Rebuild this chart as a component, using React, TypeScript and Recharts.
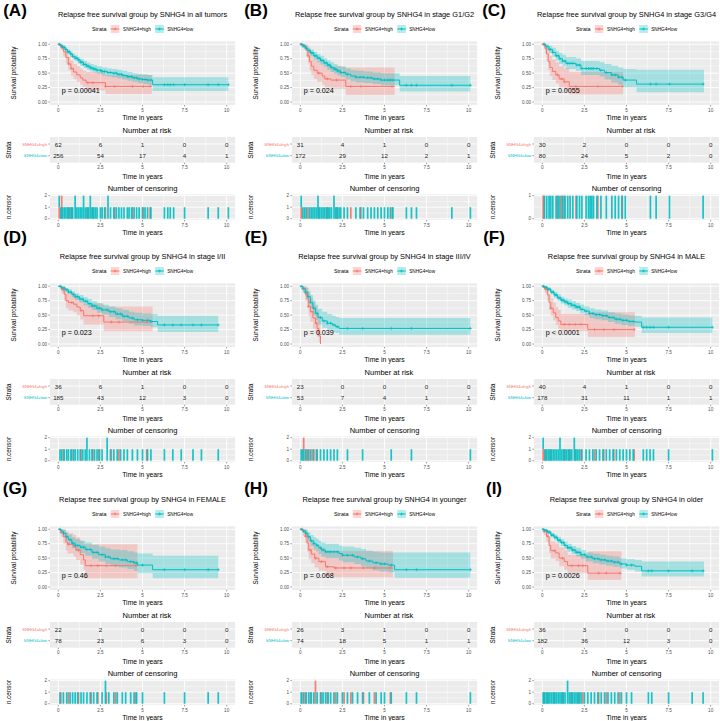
import React from "react";
import { ComposedChart, Line, Area, Scatter, Bar, XAxis, YAxis, CartesianGrid } from "recharts";

type Step = [number, number, number, number]; // time, survival, lower CI, upper CI
type Cens = [number, number]; // time, number censored

const RED = "#F8766D";
const TEAL = "#00BFC4";
const FONT = "'Liberation Sans', Arial, Helvetica, sans-serif";

const TIME_TICKS = [0, 2.5, 5, 7.5, 10];
const TIME_MINOR = [1.25, 3.75, 6.25, 8.75];
const SURV_TICKS = [0, 0.25, 0.5, 0.75, 1];
const SURV_MINOR = [0.125, 0.375, 0.625, 0.875];
const STRATA = ["SNHG4=high", "SNHG4=low"];

// ---------- Panel A: all tumors ----------
const A_HIGH: Step[] = [[0,1,1,1],[0.15,0.95,0.9,1],[0.3,0.87,0.79,0.96],[0.45,0.77,0.67,0.88],[0.6,0.66,0.55,0.79],[0.75,0.58,0.46,0.72],[0.9,0.52,0.4,0.66],[1.1,0.47,0.35,0.62],[1.3,0.42,0.3,0.58],[1.45,0.38,0.26,0.54],[1.65,0.335,0.2,0.52],[2.8,0.27,0.14,0.47],[5.55,0.27,0.14,0.47]];
const A_LOW: Step[] = [[0,1,1,1],[0.1,0.98,0.96,1],[0.25,0.95,0.92,0.98],[0.4,0.91,0.88,0.95],[0.55,0.87,0.83,0.91],[0.7,0.83,0.79,0.88],[0.85,0.79,0.74,0.84],[1.0,0.76,0.71,0.81],[1.15,0.73,0.67,0.78],[1.3,0.69,0.63,0.75],[1.5,0.65,0.59,0.71],[1.7,0.62,0.56,0.68],[1.9,0.59,0.53,0.66],[2.1,0.57,0.51,0.64],[2.3,0.55,0.49,0.62],[2.6,0.53,0.46,0.6],[2.9,0.51,0.44,0.58],[3.2,0.5,0.43,0.57],[3.5,0.48,0.41,0.56],[3.8,0.46,0.39,0.54],[4.1,0.44,0.37,0.52],[4.4,0.42,0.35,0.5],[4.7,0.4,0.33,0.49],[5.0,0.39,0.31,0.48],[5.3,0.38,0.3,0.47],[5.6,0.3,0.19,0.43],[10.1,0.3,0.19,0.43]];
const A_CENS_HIGH: Cens[] = [[0.05,1],[0.2,2],[0.6,1],[0.8,1],[1.75,1],[2.05,1],[2.8,1],[3.35,1],[4.4,1],[5.05,1],[5.45,1]];
const A_CENS_LOW: Cens[] = [[0.05,1],[0.15,1],[0.25,1],[0.35,1],[0.45,1],[0.55,1],[0.65,1],[0.75,1],[0.85,1],[1.0,2],[1.1,1],[1.2,1],[1.3,1],[1.4,1],[1.5,2],[1.6,1],[1.7,1],[1.8,1],[1.9,2],[2.0,1],[2.1,1],[2.2,1],[2.3,1],[2.5,1],[2.6,1],[2.75,1],[2.95,2],[3.1,1],[3.3,1],[3.45,1],[3.6,1],[3.75,1],[3.9,1],[4.1,1],[4.2,1],[4.35,1],[4.5,1],[4.65,1],[4.8,1],[5.0,1],[5.15,1],[5.3,1],[5.5,1],[6.3,1],[6.5,1],[6.65,1],[6.85,1],[7.5,1],[8.9,1],[9.5,1],[10.1,1]];
const A_RISK_HIGH = [62, 6, 1, 0, 0];
const A_RISK_LOW = [256, 54, 17, 4, 1];

// ---------- Panel B: stage G1/G2 ----------
const B_HIGH: Step[] = [[0,1,1,1],[0.2,0.97,0.91,1],[0.35,0.9,0.8,1],[0.45,0.8,0.67,0.96],[0.55,0.7,0.55,0.88],[0.65,0.62,0.47,0.82],[0.8,0.55,0.4,0.76],[1.0,0.5,0.35,0.72],[1.3,0.45,0.3,0.68],[1.45,0.4,0.25,0.64],[1.8,0.38,0.23,0.62],[2.7,0.27,0.12,0.6],[5.6,0.27,0.12,0.6]];
const B_LOW: Step[] = [[0,1,1,1],[0.15,0.97,0.94,1],[0.3,0.93,0.89,0.97],[0.45,0.89,0.84,0.94],[0.6,0.85,0.8,0.91],[0.8,0.8,0.74,0.87],[1.0,0.76,0.69,0.83],[1.2,0.72,0.65,0.8],[1.4,0.68,0.61,0.76],[1.6,0.64,0.56,0.72],[1.8,0.6,0.52,0.69],[2.0,0.57,0.49,0.66],[2.2,0.54,0.46,0.63],[2.4,0.51,0.43,0.61],[2.7,0.48,0.39,0.58],[3.0,0.45,0.36,0.55],[3.3,0.43,0.34,0.54],[3.8,0.42,0.33,0.53],[4.3,0.4,0.31,0.51],[4.8,0.38,0.29,0.5],[5.9,0.29,0.18,0.45],[10.1,0.29,0.18,0.45]];
const B_CENS_HIGH: Cens[] = [[0.05,1],[0.45,1],[1.1,1],[1.6,1],[2.15,1],[3.0,1],[3.6,1],[5.45,1]];
const B_CENS_LOW: Cens[] = [[0.05,1],[0.15,1],[0.25,1],[0.35,1],[0.55,1],[0.65,1],[0.75,1],[0.85,1],[0.95,1],[1.05,2],[1.15,1],[1.25,1],[1.35,1],[1.45,1],[1.55,1],[1.65,1],[1.75,1],[1.85,1],[2.0,2],[2.1,1],[2.2,1],[2.3,1],[2.4,1],[2.6,1],[2.8,1],[3.3,1],[3.55,1],[3.75,1],[4.0,1],[4.2,1],[4.4,1],[4.6,1],[4.8,1],[5.0,1],[5.2,1],[5.35,1],[5.5,1],[6.3,1],[6.6,1],[6.9,1],[9.0,1],[10.1,1]];
const B_RISK_HIGH = [31, 4, 1, 0, 0];
const B_RISK_LOW = [172, 29, 12, 2, 1];

// ---------- Panel C: stage G3/G4 ----------
const C_HIGH: Step[] = [[0,1,1,1],[0.15,0.93,0.85,1],[0.25,0.83,0.71,0.98],[0.35,0.7,0.55,0.88],[0.45,0.6,0.45,0.8],[0.6,0.53,0.38,0.74],[0.8,0.47,0.32,0.69],[1.0,0.4,0.25,0.62],[1.3,0.35,0.2,0.58],[1.6,0.27,0.13,0.52],[4.8,0.27,0.13,0.52]];
const C_LOW: Step[] = [[0,1,1,1],[0.2,0.96,0.92,1],[0.4,0.91,0.85,0.98],[0.6,0.86,0.79,0.94],[0.8,0.8,0.72,0.89],[1.0,0.75,0.66,0.85],[1.2,0.71,0.62,0.82],[1.4,0.67,0.57,0.78],[2.0,0.64,0.54,0.76],[2.3,0.58,0.47,0.71],[3.4,0.55,0.44,0.69],[3.7,0.51,0.39,0.66],[4.1,0.47,0.34,0.63],[4.5,0.43,0.3,0.6],[4.8,0.38,0.25,0.57],[5.6,0.31,0.17,0.56],[9.6,0.31,0.17,0.56]];
const C_CENS_HIGH: Cens[] = [[0.05,1],[0.1,1],[0.9,1],[1.15,1],[1.3,1],[2.0,1],[3.3,1],[4.75,1]];
const C_CENS_LOW: Cens[] = [[0.12,1],[0.26,1],[0.4,1],[0.5,1],[0.62,1],[0.82,1],[0.95,1],[1.05,1],[1.21,1],[1.35,1],[1.51,1],[1.65,1],[1.81,1],[2.05,1],[2.21,1],[2.35,1],[2.6,1],[2.74,1],[2.84,1],[2.94,1],[3.04,1],[3.24,1],[3.48,1],[3.8,1],[4.13,1],[4.33,1],[4.53,1],[4.73,1],[4.93,1],[6.42,1],[6.76,1],[7.55,1],[9.55,1]];
const C_RISK_HIGH = [30, 2, 0, 0, 0];
const C_RISK_LOW = [80, 24, 5, 2, 0];

// ---------- Panel D: stage I/II ----------
const D_HIGH: Step[] = [[0,1,1,1],[0.2,0.94,0.87,1],[0.35,0.86,0.75,0.98],[0.45,0.75,0.62,0.9],[0.6,0.72,0.58,0.88],[0.9,0.69,0.55,0.86],[1.1,0.64,0.5,0.82],[1.3,0.58,0.43,0.77],[1.5,0.49,0.34,0.7],[2.7,0.38,0.22,0.65],[5.6,0.38,0.22,0.65]];
const D_LOW: Step[] = [[0,1,1,1],[0.2,0.97,0.95,1],[0.4,0.94,0.9,0.97],[0.6,0.9,0.86,0.95],[0.8,0.86,0.81,0.91],[1.0,0.82,0.76,0.88],[1.25,0.78,0.72,0.85],[1.5,0.74,0.67,0.81],[1.75,0.7,0.63,0.78],[2.0,0.66,0.59,0.74],[2.3,0.62,0.54,0.71],[2.6,0.59,0.51,0.68],[3.0,0.56,0.47,0.65],[3.4,0.52,0.43,0.62],[3.8,0.48,0.39,0.59],[4.2,0.45,0.35,0.56],[4.5,0.42,0.32,0.54],[5.0,0.41,0.31,0.53],[5.5,0.39,0.29,0.52],[5.9,0.33,0.21,0.49],[9.5,0.33,0.21,0.49]];
const D_CENS_HIGH: Cens[] = [[0.3,1],[0.8,1],[1.35,1],[2.05,1],[2.4,1],[3.15,1],[3.6,1],[5.25,1]];
const D_CENS_LOW: Cens[] = [[0.1,1],[0.2,1],[0.35,1],[0.5,1],[0.6,1],[0.75,1],[0.9,1],[1.0,1],[1.15,1],[1.3,1],[1.45,1],[1.6,1],[1.7,2],[1.85,1],[2.0,1],[2.15,1],[2.3,1],[2.45,1],[2.6,1],[2.9,2],[3.1,1],[3.3,1],[3.5,1],[3.7,1],[3.9,1],[4.1,1],[4.4,1],[4.7,1],[5.0,1],[5.3,1],[5.5,1],[6.3,1],[6.8,1],[7.3,1],[8.0,1],[8.5,1],[9.5,1]];
const D_RISK_HIGH = [36, 6, 1, 0, 0];
const D_RISK_LOW = [185, 43, 12, 3, 0];

// ---------- Panel E: stage III/IV ----------
const E_HIGH: Step[] = [[0,1,1,1],[0.15,0.96,0.88,1],[0.3,0.87,0.74,1],[0.4,0.78,0.62,0.97],[0.5,0.65,0.48,0.88],[0.6,0.56,0.38,0.8],[0.75,0.45,0.27,0.72],[0.9,0.36,0.19,0.65],[1.0,0.27,0.12,0.58],[1.1,0.14,0.03,0.5],[1.2,0,0,0]];
const E_LOW: Step[] = [[0,1,1,1],[0.15,0.96,0.91,1],[0.3,0.9,0.83,0.98],[0.45,0.82,0.72,0.92],[0.6,0.72,0.61,0.85],[0.75,0.62,0.5,0.76],[0.9,0.53,0.41,0.68],[1.05,0.46,0.34,0.61],[1.3,0.4,0.28,0.56],[1.6,0.36,0.24,0.52],[1.9,0.33,0.21,0.49],[2.1,0.3,0.19,0.47],[2.3,0.27,0.16,0.45],[10.1,0.27,0.16,0.45]];
const E_CENS_HIGH: Cens[] = [[0.2,2],[0.35,1],[0.5,1],[0.7,1],[0.95,1]];
const E_CENS_LOW: Cens[] = [[0.05,1],[0.15,1],[0.3,1],[0.45,1],[0.6,1],[0.8,1],[1.0,1],[1.2,1],[1.4,1],[1.6,1],[1.8,1],[2.0,1],[2.2,1],[2.8,1],[3.7,1],[5.4,1],[6.6,1],[10.1,1]];
const E_RISK_HIGH = [23, 0, 0, 0, 0];
const E_RISK_LOW = [53, 7, 4, 1, 1];

// ---------- Panel F: MALE ----------
const F_HIGH: Step[] = [[0,1,1,1],[0.15,0.95,0.88,1],[0.3,0.85,0.75,0.97],[0.4,0.72,0.6,0.87],[0.5,0.62,0.49,0.79],[0.65,0.54,0.41,0.72],[0.8,0.46,0.33,0.64],[0.95,0.4,0.27,0.59],[1.1,0.34,0.22,0.52],[2.7,0.25,0.12,0.55],[5.5,0.25,0.12,0.55]];
const F_LOW: Step[] = [[0,1,1,1],[0.15,0.98,0.96,1],[0.3,0.95,0.92,0.98],[0.5,0.9,0.86,0.94],[0.7,0.85,0.8,0.9],[0.9,0.8,0.75,0.86],[1.1,0.76,0.7,0.82],[1.3,0.73,0.67,0.79],[1.5,0.7,0.63,0.77],[1.75,0.67,0.6,0.74],[2.0,0.64,0.57,0.71],[2.25,0.6,0.53,0.68],[2.5,0.57,0.5,0.65],[2.8,0.53,0.45,0.62],[3.1,0.51,0.43,0.6],[3.5,0.49,0.41,0.58],[3.9,0.46,0.38,0.55],[4.3,0.43,0.35,0.53],[4.7,0.41,0.33,0.51],[5.1,0.39,0.31,0.5],[5.5,0.38,0.3,0.49],[5.9,0.29,0.19,0.46],[10.1,0.29,0.19,0.46]];
const F_CENS_HIGH: Cens[] = [[0.05,1],[0.2,1],[0.5,1],[1.3,1],[1.6,1],[1.95,1],[2.3,1],[3.1,1],[3.65,1],[4.25,1],[5.45,1]];
const F_CENS_LOW: Cens[] = [[0.05,1],[0.15,1],[0.25,1],[0.35,1],[0.45,1],[0.55,1],[0.65,1],[0.75,1],[0.85,1],[0.95,1],[1.05,2],[1.15,1],[1.25,1],[1.35,1],[1.45,1],[1.55,1],[1.65,1],[1.75,1],[1.9,2],[2.0,1],[2.1,1],[2.2,1],[2.35,1],[2.6,1],[2.8,1],[3.0,1],[3.2,1],[3.4,1],[3.6,1],[3.8,1],[4.0,1],[4.2,1],[4.4,1],[4.6,1],[4.8,1],[5.0,1],[5.2,1],[5.4,1],[6.0,1],[6.2,1],[6.4,1],[6.6,1],[7.5,1],[10.1,1]];
const F_RISK_HIGH = [40, 4, 1, 0, 0];
const F_RISK_LOW = [178, 31, 11, 1, 1];

// ---------- Panel G: FEMALE ----------
const G_HIGH: Step[] = [[0,1,1,1],[0.15,0.95,0.87,1],[0.3,0.87,0.75,1],[0.45,0.78,0.63,0.96],[0.55,0.74,0.58,0.93],[0.9,0.7,0.53,0.9],[1.05,0.64,0.47,0.86],[1.3,0.56,0.39,0.8],[1.5,0.47,0.3,0.74],[1.6,0.37,0.15,0.74],[4.7,0.37,0.15,0.74]];
const G_LOW: Step[] = [[0,1,1,1],[0.15,0.97,0.93,1],[0.3,0.93,0.87,0.99],[0.45,0.87,0.8,0.95],[0.6,0.82,0.74,0.91],[0.8,0.76,0.67,0.86],[1.0,0.72,0.62,0.83],[1.3,0.69,0.59,0.8],[1.6,0.65,0.54,0.77],[2.0,0.6,0.49,0.73],[2.4,0.56,0.44,0.7],[2.8,0.52,0.4,0.67],[3.1,0.49,0.36,0.65],[3.6,0.47,0.34,0.64],[4.1,0.44,0.31,0.62],[4.5,0.42,0.28,0.6],[4.7,0.38,0.24,0.58],[5.6,0.3,0.15,0.54],[9.5,0.3,0.15,0.54]];
const G_CENS_HIGH: Cens[] = [[0.15,1],[0.6,1],[1.2,1],[1.95,1],[2.35,1],[2.85,1],[3.4,1],[4.6,1]];
const G_CENS_LOW: Cens[] = [[0.1,1],[0.3,1],[0.5,1],[0.7,1],[0.85,1],[1.0,1],[1.15,1],[1.35,1],[1.5,1],[1.7,1],[1.9,1],[2.1,1],[2.3,1],[2.6,1],[2.8,2],[3.0,1],[3.3,1],[3.5,1],[3.8,1],[4.0,1],[4.3,1],[4.5,1],[4.65,1],[5.0,1],[6.3,1],[7.5,1],[8.9,1],[9.5,1]];
const G_RISK_HIGH = [22, 2, 0, 0, 0];
const G_RISK_LOW = [78, 23, 6, 3, 0];

// ---------- Panel H: younger ----------
const H_HIGH: Step[] = [[0,1,1,1],[0.15,0.96,0.89,1],[0.3,0.88,0.76,1],[0.4,0.76,0.61,0.94],[0.5,0.64,0.48,0.85],[0.65,0.57,0.41,0.79],[0.85,0.5,0.34,0.74],[1.1,0.44,0.28,0.68],[1.5,0.35,0.19,0.63],[2.0,0.33,0.17,0.63],[5.5,0.33,0.17,0.63]];
const H_LOW: Step[] = [[0,1,1,1],[0.15,0.97,0.93,1],[0.3,0.93,0.87,0.99],[0.45,0.87,0.79,0.95],[0.6,0.8,0.71,0.9],[0.8,0.75,0.65,0.86],[0.95,0.72,0.62,0.83],[1.1,0.68,0.57,0.8],[1.25,0.64,0.53,0.77],[1.5,0.61,0.5,0.75],[2.3,0.58,0.46,0.72],[2.5,0.55,0.43,0.7],[3.2,0.52,0.4,0.68],[3.6,0.49,0.36,0.66],[3.9,0.45,0.32,0.63],[4.3,0.42,0.29,0.61],[4.7,0.4,0.27,0.6],[5.2,0.38,0.25,0.6],[5.6,0.3,0.16,0.6],[10.1,0.3,0.16,0.6]];
const H_CENS_HIGH: Cens[] = [[0.1,1],[0.3,1],[0.6,1],[0.9,2],[1.25,1],[1.6,1],[2.1,1],[2.6,1],[3.0,1],[3.75,1],[4.4,1],[5.35,1]];
const H_CENS_LOW: Cens[] = [[0.05,1],[0.2,1],[0.35,1],[0.5,1],[0.65,1],[0.8,1],[1.0,1],[1.2,1],[1.35,1],[1.5,1],[1.65,1],[1.8,1],[2.0,1],[2.2,1],[2.5,1],[2.8,1],[3.1,1],[3.4,1],[3.7,1],[4.1,1],[4.5,1],[4.8,1],[5.0,1],[5.4,1],[6.3,1],[6.9,1],[10.1,1]];
const H_RISK_HIGH = [26, 3, 1, 0, 0];
const H_RISK_LOW = [74, 18, 5, 1, 1];

// ---------- Panel I: older ----------
const I_HIGH: Step[] = [[0,1,1,1],[0.1,0.96,0.9,1],[0.25,0.88,0.78,0.99],[0.4,0.72,0.59,0.87],[0.5,0.63,0.49,0.79],[0.8,0.59,0.45,0.76],[1.0,0.5,0.36,0.69],[1.3,0.44,0.3,0.64],[1.5,0.37,0.24,0.56],[2.7,0.24,0.12,0.62],[4.7,0.24,0.12,0.62]];
const I_LOW: Step[] = [[0,1,1,1],[0.15,0.98,0.96,1],[0.3,0.95,0.92,0.98],[0.5,0.9,0.86,0.94],[0.7,0.86,0.81,0.91],[0.9,0.81,0.76,0.87],[1.1,0.77,0.71,0.83],[1.3,0.72,0.66,0.79],[1.5,0.68,0.61,0.75],[1.75,0.64,0.57,0.71],[2.0,0.6,0.53,0.68],[2.3,0.56,0.49,0.64],[2.6,0.52,0.44,0.6],[3.0,0.49,0.41,0.58],[3.4,0.47,0.39,0.56],[3.8,0.45,0.37,0.54],[4.2,0.43,0.35,0.53],[4.6,0.4,0.32,0.5],[5.0,0.38,0.3,0.48],[5.5,0.36,0.27,0.47],[5.9,0.28,0.18,0.44],[9.6,0.28,0.18,0.44]];
const I_CENS_HIGH: Cens[] = [[0.1,1],[0.3,1],[0.7,1],[1.2,1],[1.75,1],[2.15,1],[2.4,1],[3.35,1],[3.8,1],[4.6,1]];
const I_CENS_LOW: Cens[] = [[0.05,1],[0.15,1],[0.25,1],[0.35,1],[0.45,1],[0.55,1],[0.65,1],[0.75,1],[0.85,1],[0.95,1],[1.05,1],[1.15,1],[1.25,1],[1.35,1],[1.5,2],[1.6,1],[1.7,1],[1.8,1],[1.9,1],[2.0,1],[2.1,1],[2.2,1],[2.3,1],[2.5,1],[2.7,1],[2.9,1],[3.1,1],[3.3,1],[3.5,1],[3.7,1],[3.9,1],[4.1,1],[4.3,1],[4.5,1],[4.7,1],[5.0,1],[5.3,1],[6.3,1],[6.5,1],[7.5,1],[8.9,1],[9.55,1]];
const I_RISK_HIGH = [36, 3, 0, 0, 0];
const I_RISK_LOW = [182, 36, 12, 3, 0];

const LABELS = ["(A)", "(B)", "(C)", "(D)", "(E)", "(F)", "(G)", "(H)", "(I)"];
const TITLES = [
  "Relapse free survival group by SNHG4 in all tumors",
  "Relapse free survival group by SNHG4 in stage G1/G2",
  "Relapse free survival group by SNHG4 in stage G3/G4",
  "Relapse free survival group by SNHG4 in stage I/II",
  "Relapse free survival group by SNHG4 in stage III/IV",
  "Relapse free survival group by SNHG4 in MALE",
  "Relapse free survival group by SNHG4 in FEMALE",
  "Relapse free survival group by SNHG4 in younger",
  "Relapse free survival group by SNHG4 in older",
];
const PVALUES = ["p = 0.00041", "p = 0.024", "p = 0.0055", "p = 0.023", "p = 0.039", "p < 0.0001", "p = 0.46", "p = 0.068", "p = 0.0026"];
const CENSOR_TICKS = [[0, 1, 2], [0, 1, 2], [0, 1], [0, 1, 2], [0, 1, 2], [0, 1, 2], [0, 1, 2], [0, 1, 2], [0, 1, 2]];

const PANELS = [
  { high: A_HIGH, low: A_LOW, ch: A_CENS_HIGH, cl: A_CENS_LOW, rh: A_RISK_HIGH, rl: A_RISK_LOW },
  { high: B_HIGH, low: B_LOW, ch: B_CENS_HIGH, cl: B_CENS_LOW, rh: B_RISK_HIGH, rl: B_RISK_LOW },
  { high: C_HIGH, low: C_LOW, ch: C_CENS_HIGH, cl: C_CENS_LOW, rh: C_RISK_HIGH, rl: C_RISK_LOW },
  { high: D_HIGH, low: D_LOW, ch: D_CENS_HIGH, cl: D_CENS_LOW, rh: D_RISK_HIGH, rl: D_RISK_LOW },
  { high: E_HIGH, low: E_LOW, ch: E_CENS_HIGH, cl: E_CENS_LOW, rh: E_RISK_HIGH, rl: E_RISK_LOW },
  { high: F_HIGH, low: F_LOW, ch: F_CENS_HIGH, cl: F_CENS_LOW, rh: F_RISK_HIGH, rl: F_RISK_LOW },
  { high: G_HIGH, low: G_LOW, ch: G_CENS_HIGH, cl: G_CENS_LOW, rh: G_RISK_HIGH, rl: G_RISK_LOW },
  { high: H_HIGH, low: H_LOW, ch: H_CENS_HIGH, cl: H_CENS_LOW, rh: H_RISK_HIGH, rl: H_RISK_LOW },
  { high: I_HIGH, low: I_LOW, ch: I_CENS_HIGH, cl: I_CENS_LOW, rh: I_RISK_HIGH, rl: I_RISK_LOW },
];

// ---------- layout ----------
const COL_X = [0, 241.7, 484];
const ROW_Y = [0, 242.3, 484.8];
const LABEL_X = [15, 255.5, 494];
const LABEL_Y = [10, 237, 488];
const PLOT_L = 49.9;
const PLOT_R = 235.1;
const Y_AXIS_W = 30;
const X_AXIS_H = 14;
const TICK_FONT = 4.6;
const TICK_COLOR = "#4D4D4D";
const BAR_W = 1.7;

function survAt(steps: Step[], t: number) {
  let s = steps[0][1];
  for (const st of steps) {
    if (st[0] <= t) s = st[1];
    else break;
  }
  return s;
}

const plusShape = (color: string) => (props: any) => {
  const { cx, cy } = props;
  if (cx == null || cy == null) return <g />;
  const r = 1.5;
  return <path d={`M${cx - r},${cy}H${cx + r}M${cx},${cy - r}V${cy + r}`} stroke={color} strokeWidth={0.7} fill="none" />;
};

const barShape = (color: string, opacity: number) => (props: any) => {
  const { x, y, width, height } = props;
  if (x == null || !height) return <g />;
  const top = height < 0 ? y + height : y;
  return <rect x={x + width / 2 - BAR_W / 2} y={top} width={BAR_W} height={Math.abs(height)} fill={color} fillOpacity={opacity} />;
};

const numberShape = (props: any) => {
  const { cx, cy, payload } = props;
  return (
    <text x={cx} y={cy} textAnchor="middle" dominantBaseline="central" fontSize={6.2} fontFamily={FONT} fill="#1a1a1a">
      {payload.n}
    </text>
  );
};

const RiskTick = (props: any) => {
  const { x, y, payload } = props;
  const isHigh = payload.value === 2;
  return (
    <text x={x} y={y} textAnchor="end" dominantBaseline="central" fontSize={4.2} fontFamily={FONT} fill={isHigh ? RED : TEAL}>
      {isHigh ? STRATA[0] : STRATA[1]}
    </text>
  );
};

const xTick = { fontSize: TICK_FONT, fill: TICK_COLOR, fontFamily: FONT };
const tickLine = { stroke: "#333333", strokeWidth: 0.5 };

function KMChart({ high, low, ch, cl }: { high: Step[]; low: Step[]; ch: Cens[]; cl: Cens[] }) {
  const rows = (steps: Step[]) => steps.map(([t, s, lo, hi]) => ({ t, s, band: [lo, hi] }));
  const marks = (steps: Step[], cens: Cens[]) =>
    cens.filter(([t]) => t <= steps[steps.length - 1][0]).map(([t]) => ({ t, s: survAt(steps, t) }));
  const H = 125;
  return (
    <ComposedChart width={240} height={H} margin={{ top: 41.4, right: 240 - PLOT_R, left: PLOT_L - Y_AXIS_W, bottom: H - 104.9 - X_AXIS_H }}>
      <CartesianGrid fill="#EBEBEB" stroke="#FFFFFF" strokeWidth={0.45} horizontalValues={SURV_MINOR} verticalValues={TIME_MINOR} />
      <CartesianGrid stroke="#FFFFFF" strokeWidth={0.9} horizontalValues={SURV_TICKS} verticalValues={TIME_TICKS} />
      <XAxis type="number" dataKey="t" domain={[-0.5, 10.5]} allowDataOverflow ticks={TIME_TICKS} interval={0} height={X_AXIS_H}
        axisLine={false} tickSize={1.5} tickMargin={2} tick={xTick} tickLine={tickLine} />
      <YAxis type="number" domain={[-0.05, 1.05]} allowDataOverflow ticks={SURV_TICKS} interval={0} width={Y_AXIS_W}
        axisLine={false} tickSize={1.5} tickMargin={1.4} tick={xTick} tickLine={tickLine} tickFormatter={(v: number) => v.toFixed(2)} />
      <Area data={rows(high)} dataKey="band" type="stepAfter" stroke="none" fill={RED} fillOpacity={0.3} isAnimationActive={false} />
      <Area data={rows(low)} dataKey="band" type="stepAfter" stroke="none" fill={TEAL} fillOpacity={0.3} isAnimationActive={false} />
      <Line data={rows(high)} dataKey="s" type="stepAfter" stroke={RED} strokeWidth={1} dot={false} isAnimationActive={false} />
      <Line data={rows(low)} dataKey="s" type="stepAfter" stroke={TEAL} strokeWidth={1} dot={false} isAnimationActive={false} />
      <Scatter data={marks(high, ch)} dataKey="s" shape={plusShape(RED)} isAnimationActive={false} />
      <Scatter data={marks(low, cl)} dataKey="s" shape={plusShape(TEAL)} isAnimationActive={false} />
    </ComposedChart>
  );
}

function RiskChart({ rh, rl }: { rh: number[]; rl: number[] }) {
  const data = [
    ...TIME_TICKS.map((t, i) => ({ t, row: 2, n: rh[i] })),
    ...TIME_TICKS.map((t, i) => ({ t, row: 1, n: rl[i] })),
  ];
  const H = 60;
  return (
    <ComposedChart width={240} height={H} margin={{ top: 12, right: 240 - PLOT_R, left: PLOT_L - Y_AXIS_W, bottom: H - 37.7 - X_AXIS_H }}>
      <CartesianGrid fill="#EBEBEB" stroke="#FFFFFF" strokeWidth={0.45} horizontal={false} verticalValues={TIME_MINOR} />
      <CartesianGrid stroke="#FFFFFF" strokeWidth={0.9} horizontalValues={[1, 2]} verticalValues={TIME_TICKS} />
      <XAxis type="number" dataKey="t" domain={[-0.5, 10.5]} allowDataOverflow ticks={TIME_TICKS} interval={0} height={X_AXIS_H}
        axisLine={false} tickSize={1.5} tickMargin={2} tick={xTick} tickLine={tickLine} />
      <YAxis type="number" dataKey="row" domain={[0.4, 2.6]} allowDataOverflow ticks={[1, 2]} interval={0} width={Y_AXIS_W}
        axisLine={false} tickSize={1.5} tickMargin={1.4} tick={<RiskTick />} tickLine={tickLine} />
      <Scatter data={data} dataKey="row" shape={numberShape} isAnimationActive={false} />
    </ComposedChart>
  );
}

function CensorChart({ ch, cl, ticks }: { ch: Cens[]; cl: Cens[]; ticks: number[] }) {
  const map = new Map<number, { t: number; h?: number; l?: number }>();
  ch.forEach(([t, n]) => { const r = map.get(t) ?? { t }; r.h = n; map.set(t, r); });
  cl.forEach(([t, n]) => { const r = map.get(t) ?? { t }; r.l = n; map.set(t, r); });
  const data = Array.from(map.values()).sort((a, b) => a.t - b.t);
  const max = ticks[ticks.length - 1];
  const pad = max * 0.05;
  const H = 55;
  return (
    <ComposedChart width={240} height={H} data={data} margin={{ top: 9.5, right: 240 - PLOT_R, left: PLOT_L - Y_AXIS_W, bottom: H - 34.9 - X_AXIS_H }}>
      <CartesianGrid fill="#EBEBEB" stroke="#FFFFFF" strokeWidth={0.45} horizontalValues={ticks.slice(0, -1).map((v) => v + 0.5)} verticalValues={TIME_MINOR} />
      <CartesianGrid stroke="#FFFFFF" strokeWidth={0.9} horizontalValues={ticks} verticalValues={TIME_TICKS} />
      <XAxis type="number" dataKey="t" domain={[-0.5, 10.5]} allowDataOverflow ticks={TIME_TICKS} interval={0} height={X_AXIS_H}
        axisLine={false} tickSize={1.5} tickMargin={2} tick={xTick} tickLine={tickLine} />
      <YAxis type="number" domain={[-pad, max + pad]} allowDataOverflow ticks={ticks} interval={0} width={Y_AXIS_W}
        axisLine={false} tickSize={1.5} tickMargin={1.4} tick={xTick} tickLine={tickLine} />
      <Bar dataKey="h" stackId="c" shape={barShape(RED, 0.95)} isAnimationActive={false} />
      <Bar dataKey="l" stackId="c" shape={barShape(TEAL, 0.9)} isAnimationActive={false} />
    </ComposedChart>
  );
}

function Txt({ x, y, size, children, anchor = "middle", rotate = false, color = "#000", weight = "normal" }: any) {
  return (
    <text x={x} y={y} fontSize={size} textAnchor={anchor} dominantBaseline="central" fontFamily={FONT} fill={color} fontWeight={weight}
      transform={rotate ? `rotate(-90 ${x} ${y})` : undefined}>
      {children}
    </text>
  );
}

function LegendKey({ x, color }: { x: number; color: string }) {
  const y = 29, w = 8.5, h = 8;
  return (
    <g>
      <rect x={x} y={y - h / 2} width={w} height={h} fill={color} fillOpacity={0.3} />
      <line x1={x} x2={x + w} y1={y} y2={y} stroke={color} strokeWidth={1} />
      <path d={`M${x + w / 2 - 1.5},${y}H${x + w / 2 + 1.5}M${x + w / 2},${y - 1.5}V${y + 1.5}`} stroke={color} strokeWidth={0.7} />
    </g>
  );
}

function Panel({ idx }: { idx: number }) {
  const p = PANELS[idx];
  const col = idx % 3;
  const row = Math.floor(idx / 3);
  return (
    <div style={{ position: "absolute", left: COL_X[col], top: ROW_Y[row], width: 240, height: 240 }}>
      <div style={{ position: "absolute", left: 0, top: 0 }}>
        <KMChart high={p.high} low={p.low} ch={p.ch} cl={p.cl} />
      </div>
      <div style={{ position: "absolute", left: 0, top: 125 }}>
        <RiskChart rh={p.rh} rl={p.rl} />
      </div>
      <div style={{ position: "absolute", left: 0, top: 185 }}>
        <CensorChart ch={p.ch} cl={p.cl} ticks={CENSOR_TICKS[idx]} />
      </div>
      <svg width={240} height={240} style={{ position: "absolute", left: 0, top: 0, pointerEvents: "none" }}>
        <Txt x={142.5} y={14.7} size={7.4}>{TITLES[idx]}</Txt>
        <Txt x={92} y={29} size={5.4} anchor="start">Strata</Txt>
        <LegendKey x={110.8} color={RED} />
        <Txt x={123} y={29} size={4.7} anchor="start">{STRATA[0]}</Txt>
        <LegendKey x={155.3} color={TEAL} />
        <Txt x={167.2} y={29} size={4.7} anchor="start">{STRATA[1]}</Txt>
        <Txt x={13} y={73} size={6.3} rotate>Survival probability</Txt>
        <Txt x={61.7} y={90.7} size={7.2} anchor="start">{PVALUES[idx]}</Txt>
        <Txt x={142.5} y={117} size={6.8}>Time in years</Txt>
        <Txt x={147} y={130.5} size={7.5}>Number at risk</Txt>
        <Txt x={8} y={150} size={6.3} rotate>Strata</Txt>
        <Txt x={142.5} y={176} size={6.8}>Time in years</Txt>
        <Txt x={142.5} y={188.3} size={7.5}>Number of censoring</Txt>
        <Txt x={8} y={207} size={6.3} rotate>n.censor</Txt>
        <Txt x={142.5} y={232.3} size={6.8}>Time in years</Txt>
      </svg>
    </div>
  );
}

export default function App() {
  return (
    <div style={{ position: "absolute", left: 0, top: 0, width: 720, height: 721, background: "#FFFFFF", overflow: "hidden", fontFamily: FONT }}>
      {PANELS.map((_, i) => (
        <Panel key={i} idx={i} />
      ))}
      {LABELS.map((lab, i) => (
        <svg key={lab} width={40} height={24} style={{ position: "absolute", left: LABEL_X[i % 3] - 20, top: LABEL_Y[Math.floor(i / 3)] - 12, pointerEvents: "none" }}>
          <Txt x={20} y={12} size={17} weight="bold">{lab}</Txt>
        </svg>
      ))}
    </div>
  );
}
